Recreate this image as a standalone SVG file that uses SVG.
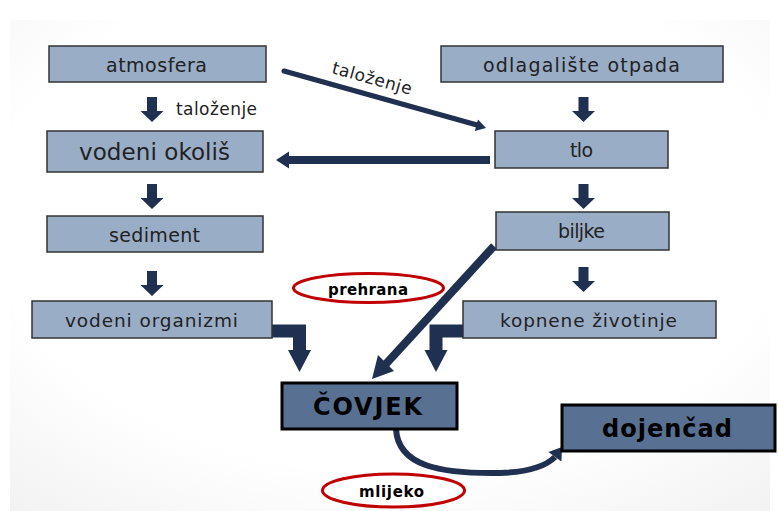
<svg xmlns="http://www.w3.org/2000/svg" width="779" height="511" viewBox="0 0 779 511">
<style>
.box{fill:#9aadc6;stroke:#333;stroke-width:1.5}
.big{fill:#587192;stroke:#000;stroke-width:3}
.t{font-family:"DejaVu Sans","Liberation Sans",sans-serif;fill:#222}
.b{font-family:"DejaVu Sans","Liberation Sans",sans-serif;font-weight:bold;fill:#000}
.ar{fill:#1f3050}
.ln{stroke:#1f3050;fill:none}
.ov{fill:#fff;stroke:#c00000;stroke-width:3}
</style>
<defs>
<radialGradient id="bg" cx="0.5" cy="0.4" r="0.8">
<stop offset="0.65" stop-color="#ffffff"/>
<stop offset="1" stop-color="#f1f1f1"/>
</radialGradient>
<path id="da" d="M-5,0 H5 V14 H11.5 L0,25 L-11.5,14 H-5 Z"/>
</defs>
<rect x="0" y="0" width="779" height="511" fill="#fff"/>
<rect x="10" y="20" width="760" height="491" fill="url(#bg)"/>

<g id="connectors">
<use href="#da" class="ar" x="152" y="97"/>
<use href="#da" class="ar" x="152" y="184"/>
<use href="#da" class="ar" x="152" y="271"/>
<use href="#da" class="ar" x="583.5" y="97"/>
<use href="#da" class="ar" x="583.5" y="184"/>
<use href="#da" class="ar" x="583.5" y="267"/>
<text class="t" x="176" y="115" font-size="17" textLength="81">taloženje</text>
<line class="ln" x1="284" y1="71" x2="477" y2="125" stroke-width="5" stroke-linecap="round"/>
<polygon class="ar" points="486,128 474.8,131.1 478,119.5"/>
<text class="t" transform="translate(331,73) rotate(15.5)" font-size="17" textLength="82">taloženje</text>
<line class="ln" x1="490" y1="160" x2="286" y2="160" stroke-width="8"/>
<polygon class="ar" points="276,160 289,151.5 289,168.5"/>
<path class="ln" d="M272,331 H299.5 V352" stroke-width="13"/>
<polygon class="ar" points="288,350 311,350 299.5,372"/>
<path class="ln" d="M463,331 H436 V352" stroke-width="13"/>
<polygon class="ar" points="424.5,350 447.5,350 436,372"/>
<line class="ln" x1="494" y1="246" x2="385" y2="365" stroke-width="8"/>
<polygon class="ar" points="372,379 394,371 378,355"/>
<path class="ln" d="M396,429 C398,466 440,474 500,473 C530,472 546,466 555,457" stroke-width="6"/>
<polygon class="ar" points="562,447 561.4,461.4 548.4,452"/>
</g>

<g id="atmosfera"><rect class="box" x="49" y="46" width="217" height="36"/><text class="t" x="106" y="72" font-size="19" textLength="101">atmosfera</text></g>
<g id="odlagaliste"><rect class="box" x="441" y="46" width="282" height="36"/><text class="t" x="483" y="72" font-size="19" textLength="197">odlagalište  otpada</text></g>
<g id="vodeni-okolis"><rect class="box" x="47" y="131" width="216" height="41"/><text class="t" x="79" y="160" font-size="23" textLength="151">vodeni okoliš</text></g>
<g id="tlo"><rect class="box" x="495" y="131" width="173" height="37"/><text class="t" x="570" y="157" font-size="19" textLength="23">tlo</text></g>
<g id="sediment"><rect class="box" x="47" y="216" width="216" height="36"/><text class="t" x="109" y="242" font-size="19" textLength="91">sediment</text></g>
<g id="biljke"><rect class="box" x="496" y="212" width="173" height="38"/><text class="t" x="558" y="238" font-size="19" textLength="47">biljke</text></g>
<g id="vodeni-organizmi"><rect class="box" x="32" y="301" width="240" height="37"/><text class="t" x="65" y="327" font-size="18.5" textLength="173">vodeni organizmi</text></g>
<g id="kopnene-zivotinje"><rect class="box" x="463" y="301" width="253" height="37"/><text class="t" x="500" y="327" font-size="18.5" textLength="177">kopnene životinje</text></g>
<g id="prehrana"><ellipse class="ov" cx="368.5" cy="288" rx="75" ry="14.5"/><text class="b" x="328" y="295" font-size="15" textLength="80">prehrana</text></g>
<g id="covjek"><rect class="big" x="282" y="383" width="175" height="46"/><text class="b" x="313" y="415" font-size="24" textLength="109">ČOVJEK</text></g>
<g id="dojencad"><rect class="big" x="562" y="405" width="213" height="46"/><text class="b" x="602" y="437" font-size="24" textLength="130">dojenčad</text></g>
<g id="mlijeko"><ellipse class="ov" cx="393.5" cy="490.5" rx="71" ry="16.5"/><text class="b" x="359" y="497" font-size="15" textLength="65">mlijeko</text></g>
</svg>
